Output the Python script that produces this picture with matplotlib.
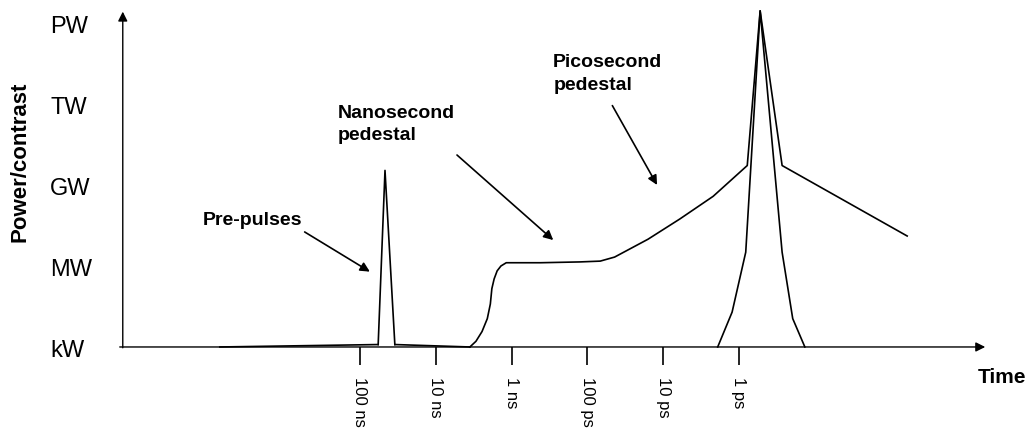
"""Schematic of a laser pulse temporal contrast profile."""

import matplotlib

matplotlib.use("Agg")

import matplotlib.pyplot as plt

plt.rcParams["font.family"] = ["Liberation Sans", "DejaVu Sans"]

# x in decades before the main pulse (0 = 100 ns tick), y in power levels (0 = kW)
tick_pos = [0, 1, 2, 3, 4, 5]
tick_labels = ["100 ns", "10 ns", "1 ns", "100 ps", "10 ps", "1 ps"]
level_pos = [0, 1, 2, 3, 4]
level_labels = ["kW", "MW", "GW", "TW", "PW"]

baseline_x = [-1.85, 0.24]
baseline_y = [0.0, 0.03]
prepulse_x = [0.24, 0.33, 0.46]
prepulse_y = [0.03, 2.18, 0.03]
tail_x = [0.46, 1.45]
tail_y = [0.03, 0.0]

# nanosecond + picosecond pedestal
pedestal_x = [1.45, 1.53, 1.61, 1.68, 1.72, 1.74, 1.77, 1.81, 1.86, 1.93, 2.01,
              2.38, 2.90, 3.17, 3.36, 3.80, 4.22, 4.66, 5.11, 5.28, 5.57, 7.22]
pedestal_y = [0.0, 0.07, 0.19, 0.35, 0.53, 0.72, 0.84, 0.94, 1.00, 1.04, 1.04,
              1.04, 1.05, 1.06, 1.11, 1.33, 1.58, 1.86, 2.24, 4.15, 2.24, 1.37]

# main pulse
pulse_x = [4.72, 4.91, 5.09, 5.28, 5.57, 5.71, 5.87]
pulse_y = [0.0, 0.43, 1.17, 4.15, 1.17, 0.35, 0.0]

fig = plt.figure(figsize=(10.36, 4.31), dpi=100)
ax = fig.add_axes([0, 0, 1, 1])
ax.set_xlim(-4.75, 8.92)
ax.set_ylim(-1.025, 4.296)

lw = 1.2
ax.plot(baseline_x, baseline_y, color="black", lw=lw)
ax.plot(prepulse_x, prepulse_y, color="black", lw=lw)
ax.plot(tail_x, tail_y, color="black", lw=lw)
ax.plot(pedestal_x, pedestal_y, color="black", lw=lw)
ax.plot(pulse_x, pulse_y, color="black", lw=lw)

# axes drawn as arrows
for s in ax.spines.values():
    s.set_visible(False)
ax.spines["bottom"].set_position(("data", 0))
arrow = dict(arrowstyle="-|>", color="black", lw=1.0, mutation_scale=14,
             shrinkA=0, shrinkB=0)
ax.annotate("", xy=(8.25, 0), xytext=(-3.17, 0), arrowprops=arrow)
ax.annotate("", xy=(-3.13, 4.14), xytext=(-3.13, -0.01), arrowprops=arrow)

ax.set_xticks(tick_pos)
ax.set_xticklabels(tick_labels, rotation=-90, fontsize=12, va="top")
ax.tick_params(axis="x", direction="out", length=13, width=1.2, pad=8)
ax.set_yticks([])

for y, lab in zip(level_pos, level_labels):
    ax.text(-4.09, y - 0.04, lab, fontsize=17, ha="left", va="center")

ax.text(-4.49, 2.30, "Power/contrast", fontsize=16, fontweight="bold",
        rotation=90, ha="center", va="center")
ax.text(8.15, -0.43, "Time", fontsize=15, fontweight="bold",
        ha="left", va="baseline")

bold = dict(fontsize=14, fontweight="bold", ha="left", va="baseline")
ax.text(-2.07, 1.52, "Pre-pulses", **bold)
ax.text(-0.29, 2.84, "Nanosecond", **bold)
ax.text(-0.29, 2.57, "pedestal", **bold)
ax.text(2.55, 3.47, "Picosecond", **bold)
ax.text(2.55, 3.19, "pedestal", **bold)

note = dict(arrowstyle="-|>", color="black", lw=1.2, mutation_scale=14,
            shrinkA=0, shrinkB=0)
ax.annotate("", xy=(0.13, 0.93), xytext=(-0.73, 1.42), arrowprops=note)
ax.annotate("", xy=(2.55, 1.32), xytext=(1.28, 2.37), arrowprops=note)
ax.annotate("", xy=(3.92, 2.0), xytext=(3.33, 2.98), arrowprops=note)

fig.savefig("out.png", dpi=100)
